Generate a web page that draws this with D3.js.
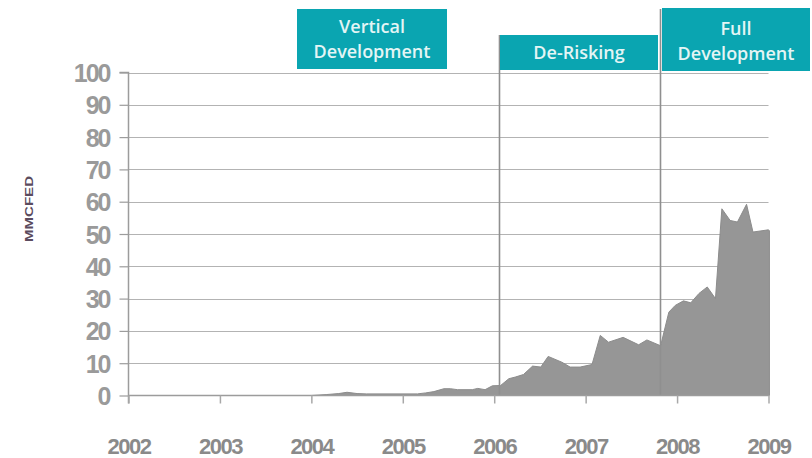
<!DOCTYPE html>
<html>
<head>
<meta charset="utf-8">
<script src="https://cdn.jsdelivr.net/npm/d3@7"></script>
<style>
  html, body { margin: 0; padding: 0; background: #fff; }
  svg { display: block; }
</style>
</head>
<body>
<svg id="chart" width="812" height="458"></svg>
<script>
// ---- Data (decimal years and MMCFED values) ----
const years = [
  2002.0, 2004.0, 2004.17, 2004.3, 2004.39, 2004.5, 2004.6, 2005.16, 2005.25, 2005.34,
  2005.45, 2005.52, 2005.6, 2005.76, 2005.82, 2005.9, 2005.98, 2006.07, 2006.16, 2006.23,
  2006.32, 2006.42, 2006.51, 2006.59, 2006.74, 2006.83, 2006.94, 2007.07, 2007.16, 2007.25,
  2007.41, 2007.58, 2007.67, 2007.82, 2007.91, 2007.98, 2008.07, 2008.15, 2008.24, 2008.33,
  2008.42, 2008.49, 2008.58, 2008.66, 2008.76, 2008.83, 2009.0, 2009.01
];
const values = [
  0, 0, 0.3, 0.6, 1.0, 0.6, 0.5, 0.5, 0.8, 1.2,
  2.1, 2.1, 1.8, 1.8, 2.2, 1.8, 3.0, 3.1, 5.2, 5.7,
  6.5, 9.1, 8.8, 12.1, 10.3, 8.8, 8.8, 9.6, 18.6, 16.5,
  18.0, 15.7, 17.2, 15.4, 25.8, 27.9, 29.3, 28.7, 31.6, 33.6,
  30.0, 57.8, 54.2, 53.7, 59.2, 50.6, 51.3, 51.0
];
const xTickLabels = ["2002", "2003", "2004", "2005", "2006", "2007", "2008", "2009"];
const yTickValues = [0, 10, 20, 30, 40, 50, 60, 70, 80, 90, 100];
const phaseStarts = [2006.055, 2007.815];
const yTitle = "MMCFED";

// ---- Layout ----
const svg = d3.select("#chart");
const x = d3.scaleLinear().domain([2002, 2009]).range([128.5, 768.5]);
const y = d3.scaleLinear().domain([0, 100]).range([395.5, 72.5]);

const data = years.map((yr, i) => ({ yr, v: values[i] }));

// gridlines
svg.append("g").selectAll("line").data(yTickValues.filter(d => d > 0)).join("line")
  .attr("x1", x(2002)).attr("x2", x(2009))
  .attr("y1", d => Math.round(y(d)) + 0.5).attr("y2", d => Math.round(y(d)) + 0.5)
  .attr("stroke", "#b3b3b3").attr("stroke-width", 1.2);

// area
const area = d3.area().x(d => x(d.yr)).y0(y(0)).y1(d => y(d.v)).curve(d3.curveLinear);
svg.append("path").datum(data)
  .attr("d", area)
  .attr("fill", "#969696")
  .attr("stroke", "#8c8c8c").attr("stroke-width", 1);

// phase boundary lines
const phaseTops = [35, 9];
svg.append("g").selectAll("line").data(phaseStarts).join("line")
  .attr("x1", d => Math.round(x(d)) + 0.5).attr("x2", d => Math.round(x(d)) + 0.5)
  .attr("y1", (d, i) => phaseTops[i]).attr("y2", y(0))
  .attr("stroke", "#8f8f8f").attr("stroke-width", 1.6);

// Y axis
const yAxis = d3.axisLeft(y).tickValues(yTickValues).tickSize(9).tickPadding(10).tickFormat(d3.format("d"));
const gy = svg.append("g").attr("transform", `translate(${x(2002)},0)`).call(yAxis);
gy.select(".domain").attr("stroke", "#9c9c9c").attr("stroke-width", 1.5)
  .attr("d", `M-9,${y(100)}H0V${y(0) + 8}`);
gy.selectAll(".tick line").attr("stroke", "#9c9c9c").attr("stroke-width", 1.2);
gy.selectAll(".tick text")
  .attr("fill", "#9a9a9a")
  .attr("font-family", "'Liberation Sans', Arial, sans-serif")
  .attr("font-weight", "bold")
  .attr("font-size", 25)
  .attr("letter-spacing", -2)
  .attr("dy", "0.36em");

// X axis
const xAxis = d3.axisBottom(x).tickValues(d3.range(2002, 2010)).tickSize(8).tickPadding(50)
  .tickFormat((d, i) => xTickLabels[i]);
const gx = svg.append("g").attr("transform", `translate(0,${y(0)})`).call(xAxis);
gx.select(".domain").attr("stroke", "#9c9c9c").attr("stroke-width", 1.5)
  .attr("d", `M${x(2002)},0H${x(2009)}`);
gx.selectAll(".tick line").attr("stroke", "#a8a8a8").attr("stroke-width", 1.5);
gx.selectAll(".tick text")
  .attr("fill", "#8a8a8a")
  .attr("font-family", "'Liberation Sans', Arial, sans-serif")
  .attr("font-weight", "bold")
  .attr("font-size", 22)
  .attr("letter-spacing", -1.5)
  .attr("dy", "0");

// Y title
svg.append("text")
  .attr("transform", "translate(33,209) rotate(-90)")
  .attr("text-anchor", "middle")
  .attr("fill", "#5b4b5e")
  .attr("font-family", "'Liberation Sans', Arial, sans-serif")
  .attr("font-weight", "bold")
  .attr("font-size", 11)
  .attr("textLength", 66)
  .attr("lengthAdjust", "spacingAndGlyphs")
  .text(yTitle);

// Phase header boxes (annotations)
const boxes = [
  { x0: 297, x1: 447, y0: 9, y1: 69, lines: ["Vertical", "Development"], ys: [33, 58] },
  { x0: 500, x1: 658, y0: 35, y1: 70, lines: ["De-Risking"], ys: [59] },
  { x0: 662, x1: 810, y0: 8, y1: 71, lines: ["Full", "Development"], ys: [35, 60] }
];
const bg = svg.append("g");
boxes.forEach(b => {
  bg.append("rect").attr("x", b.x0).attr("y", b.y0).attr("width", b.x1 - b.x0).attr("height", b.y1 - b.y0)
    .attr("fill", "#0aa5b1");
  b.lines.forEach((t, i) => {
    bg.append("text")
      .attr("x", (b.x0 + b.x1) / 2).attr("y", b.ys[i])
      .attr("text-anchor", "middle")
      .attr("fill", "#e4f5f5")
      .attr("font-family", "'Open Sans', 'DejaVu Sans', sans-serif")
      .attr("font-weight", 600)
      .attr("font-size", 18)
      .text(t);
  });
});
</script>
</body>
</html>
